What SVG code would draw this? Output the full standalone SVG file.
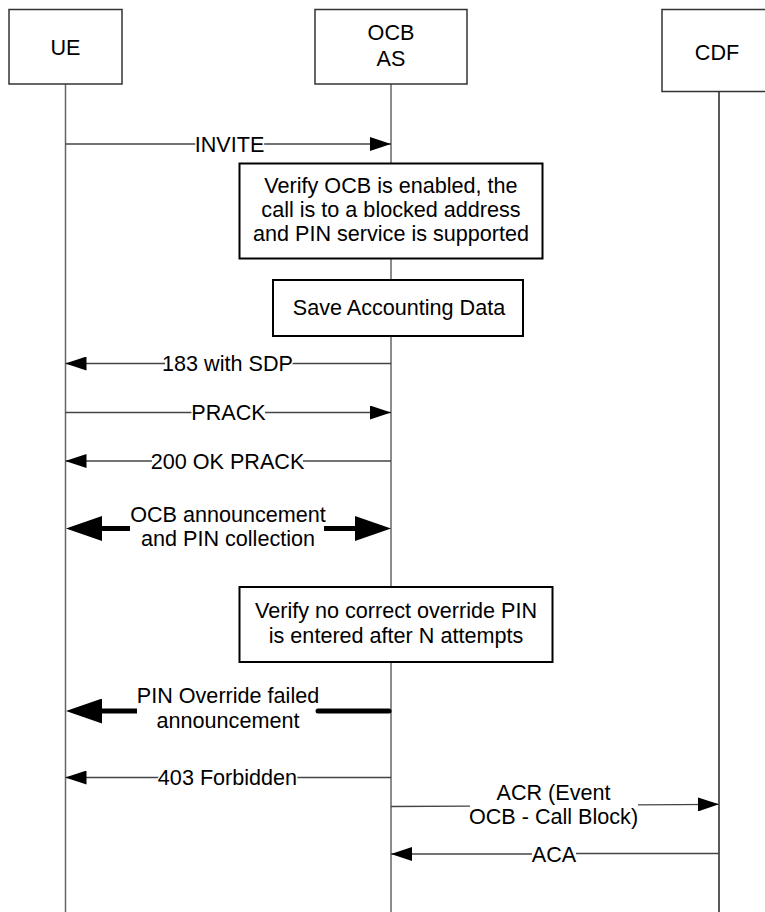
<svg xmlns="http://www.w3.org/2000/svg" width="765" height="912" viewBox="0 0 765 912">
<style>
text{font-family:"Liberation Sans",Arial,sans-serif;font-size:21.6px;fill:#000;text-anchor:middle}
.lbl{stroke:#fff;stroke-width:3px;paint-order:stroke;stroke-linejoin:round}
.node{fill:#fff;stroke:#333;stroke-width:1.5}
.note{fill:#fff;stroke:#000;stroke-width:2}
.life{stroke:#666;stroke-width:1.5;fill:none}
.msg{stroke:#444;stroke-width:1.3;fill:none}
.thick{stroke:#000;stroke-width:5;fill:none}
</style>
<defs>
<marker id="ah" markerUnits="userSpaceOnUse" viewBox="0 0 21 14" refX="21" refY="7" markerWidth="21" markerHeight="14" orient="auto"><path d="M0,0 L21,7 L0,14 z" fill="#000"/></marker>
<marker id="big" markerUnits="userSpaceOnUse" viewBox="0 0 36 25" refX="0" refY="12.5" markerWidth="36" markerHeight="25" orient="auto"><path d="M0,0 L36,12.5 L0,25 z" fill="#000"/></marker>
</defs>
<rect width="765" height="912" fill="#fff"/>
<g id="lifelines">
<line class="life" x1="65.5" y1="84" x2="65.5" y2="912"/>
<line class="life" x1="391" y1="84" x2="391" y2="912"/>
<line x1="719" y1="92" x2="719" y2="912" stroke="#000" stroke-width="1.3"/>
</g>
<g id="UE"><rect class="node" x="9" y="9.5" width="113" height="74.5"/><text x="65.5" y="55">UE</text></g>
<g id="OCB_AS"><rect class="node" x="315" y="9.5" width="152" height="74.5"/><text x="391" y="40">OCB</text><text x="391" y="66">AS</text></g>
<g id="CDF"><rect class="node" x="662" y="9.5" width="110" height="82"/><text x="717" y="60">CDF</text></g>
<g id="note_verify"><rect class="note" x="239.5" y="163.5" width="303" height="95"/>
<text x="391" y="193">Verify OCB is enabled, the</text>
<text x="391" y="217">call is to a blocked address</text>
<text x="391" y="241">and PIN service is supported</text></g>
<g id="note_save"><rect class="note" x="273" y="280" width="250" height="56"/><text x="399" y="315">Save Accounting Data</text></g>
<g id="note_pin"><rect class="note" x="239.5" y="587" width="313" height="75"/>
<text x="396" y="618">Verify no correct override PIN</text>
<text x="396" y="643">is entered after N attempts</text></g>
<g id="connectors">
<line class="msg" x1="65.5" y1="144" x2="196" y2="144"/><line class="msg" x1="263" y1="144" x2="391" y2="144" marker-end="url(#ah)"/>
<text class="lbl" x="229.5" y="151.5">INVITE</text>
<line class="msg" x1="391" y1="363.5" x2="290" y2="363.5"/><line class="msg" x1="165" y1="363.5" x2="65.5" y2="363.5" marker-end="url(#ah)"/>
<text class="lbl" x="227.5" y="371">183 with SDP</text>
<line class="msg" x1="65.5" y1="412.5" x2="192" y2="412.5"/><line class="msg" x1="265" y1="412.5" x2="391" y2="412.5" marker-end="url(#ah)"/>
<text class="lbl" x="228.5" y="420">PRACK</text>
<line class="msg" x1="391" y1="461" x2="303" y2="461"/><line class="msg" x1="152" y1="461" x2="65.5" y2="461" marker-end="url(#ah)"/>
<text class="lbl" x="227.5" y="468.5">200 OK PRACK</text>
<line class="thick" x1="130" y1="528.5" x2="102" y2="528.5" marker-end="url(#big)"/>
<line class="thick" x1="324" y1="528.5" x2="355" y2="528.5" marker-end="url(#big)"/>
<text class="lbl" x="228" y="521.5">OCB announcement</text>
<text class="lbl" x="228" y="546">and PIN collection</text>
<line class="thick" x1="137" y1="711" x2="102" y2="711" marker-end="url(#big)"/>
<line class="thick" x1="318" y1="711" x2="389" y2="711" stroke-linecap="round"/>
<text class="lbl" x="228" y="703">PIN Override failed</text>
<text class="lbl" x="228" y="728">announcement</text>
<line class="msg" x1="391" y1="777.5" x2="296" y2="777.5"/><line class="msg" x1="159" y1="777.5" x2="65.5" y2="777.5" marker-end="url(#ah)"/>
<text class="lbl" x="227.5" y="785">403 Forbidden</text>
<line class="msg" x1="391" y1="806.5" x2="470" y2="806.2"/><line class="msg" x1="638" y1="804.8" x2="719" y2="804.3" marker-end="url(#ah)"/>
<text class="lbl" x="553.5" y="799.5">ACR (Event</text>
<text class="lbl" x="553.5" y="824">OCB - Call Block)</text>
<line class="msg" x1="719" y1="853.5" x2="576" y2="853.5"/><line class="msg" x1="532" y1="854" x2="391" y2="854" marker-end="url(#ah)"/>
<text class="lbl" x="554" y="861.5">ACA</text>
</g>
</svg>
